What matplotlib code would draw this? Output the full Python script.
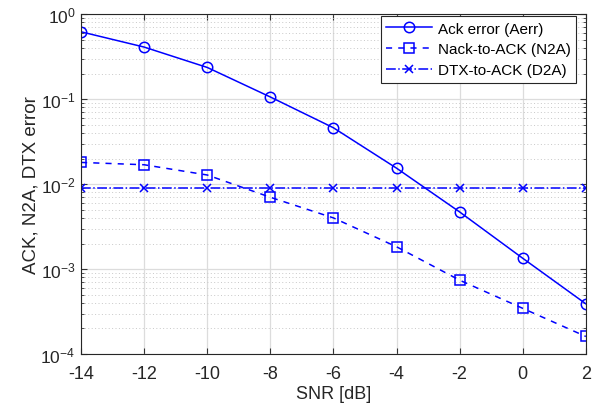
import numpy as np
import matplotlib.pyplot as plt
from matplotlib.ticker import LogLocator, NullFormatter

plt.rcParams['font.family'] = ['Liberation Sans', 'DejaVu Sans']
plt.rcParams['axes.unicode_minus'] = False

snr = [-14, -12, -10, -8, -6, -4, -2, 0, 2]
ack_err = [0.62, 0.41, 0.236, 0.106, 0.046, 0.0154, 0.0047, 0.00134, 0.00039]
n2a = [0.018, 0.0169, 0.0128, 0.0070, 0.0040, 0.00183, 0.00074, 0.000345, 0.000161]
d2a = [0.0089] * len(snr)

fig = plt.figure(figsize=(5.96, 4.10), dpi=100)
ax = fig.add_axes([0.136, 0.134, 0.847, 0.829])

ax.semilogy(snr, ack_err, '-o', color='blue', lw=1.1, ms=7.5, mfc='none', mew=1.1,
            label='Ack error (Aerr)')
ax.semilogy(snr, n2a, '--s', color='blue', lw=1.1, ms=6.5, mfc='none', mew=1.1,
            label='Nack-to-ACK (N2A)', dashes=(4, 4))
ax.semilogy(snr, d2a, '-.x', color='blue', lw=1.1, ms=5.5, mew=1.1,
            label='DTX-to-ACK (D2A)')

ax.set_xlim(-14, 2)
ax.set_ylim(1e-4, 1)
ax.set_xticks(np.arange(-14, 3, 2))
ax.yaxis.set_major_locator(LogLocator(base=10, numticks=10))
ax.yaxis.set_minor_locator(LogLocator(base=10, subs=np.arange(2, 10), numticks=10))
ax.yaxis.set_minor_formatter(NullFormatter())

ax.grid(True, which='major', color='#dcdcdc', lw=0.9, ls='-')
ax.grid(True, which='minor', axis='y', color='#c8c8c8', lw=0.7, ls=(0, (1, 2.5)))
ax.set_axisbelow(True)

ax.tick_params(which='both', direction='in', top=True, right=True,
               color='#333333', labelcolor='#262626')
ax.tick_params(which='major', length=4)
ax.tick_params(which='minor', length=2.5)
ax.tick_params(axis='x', pad=8, labelsize=13)
ax.tick_params(axis='y', pad=4, labelsize=12.5)
for s in ax.spines.values():
    s.set_color('#262626')
    s.set_linewidth(0.8)

ax.set_xlabel('SNR [dB]', fontsize=13, color='#262626', labelpad=2)
ax.set_ylabel('ACK, N2A, DTX error', fontsize=13.5, color='#262626', labelpad=1)

leg = ax.legend(loc='upper right', bbox_to_anchor=(0.981, 0.994), fontsize=11,
                fancybox=False, framealpha=1, edgecolor='#262626', handlelength=3.0,
                borderaxespad=0, borderpad=0.35, labelspacing=0.45, handletextpad=0.4)
leg.get_frame().set_linewidth(0.8)

fig.savefig('out.png', dpi=100)
